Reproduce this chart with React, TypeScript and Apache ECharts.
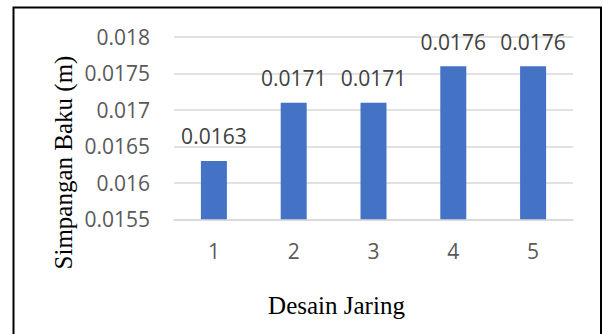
import React, { useEffect, useRef } from "react";
import * as echarts from "echarts";

// Desain jaring (network designs) and their standard deviation in metres
const categories = ["1", "2", "3", "4", "5"];
const stdDev = [0.0163, 0.0171, 0.0171, 0.0176, 0.0176];

// Value axis range
const yMin = 0.0155;
const yMax = 0.018;
const yStep = 0.0005;

const yTitle = "Simpangan Baku (m)";
const xTitle = "Desain Jaring";

const fmt = (v: number) => String(Number(v.toFixed(4)));

export default function App() {
  const ref = useRef<HTMLDivElement>(null);

  useEffect(() => {
    if (!ref.current) return;
    const chart = echarts.init(ref.current, undefined, { renderer: "svg" });
    const sans = "'Open Sans', sans-serif";
    const serif = "'Liberation Serif', 'Times New Roman', serif";
    chart.setOption({
      animation: false,
      backgroundColor: "#ffffff",
      grid: { left: 174, right: 30, top: 37, bottom: 114.7 },
      xAxis: {
        type: "category",
        data: categories,
        axisLine: { show: true, lineStyle: { color: "#d9d9d9", width: 1.5 } },
        axisTick: { show: false },
        axisLabel: { color: "#595959", fontSize: 21, fontFamily: sans, margin: 21 },
      },
      yAxis: {
        type: "value",
        min: yMin,
        max: yMax,
        interval: yStep,
        axisLine: { show: false },
        axisTick: { show: false },
        splitLine: { lineStyle: { color: "#d9d9d9", width: 1.5 } },
        axisLabel: {
          color: "#595959",
          fontSize: 21,
          fontFamily: sans,
          margin: 24,
          formatter: (v: number) => fmt(v),
        },
      },
      series: [
        {
          type: "bar",
          data: stdDev,
          barWidth: 26,
          itemStyle: { color: "#4472c4" },
          label: {
            show: true,
            position: "top",
            distance: 14,
            color: "#404040",
            fontSize: 21,
            fontFamily: sans,
            formatter: (p: any) => fmt(p.value),
          },
        },
      ],
      graphic: [
        {
          type: "rect",
          shape: { x: 13.5, y: 7.5, width: 587.5, height: 340 },
          style: { fill: "none", stroke: "#000000", lineWidth: 2 },
          silent: true,
        },
        {
          type: "text",
          x: 63,
          y: 162.5,
          rotation: Math.PI / 2,
          style: {
            text: yTitle,
            fill: "#000000",
            font: `25px ${serif}`,
            align: "center",
            verticalAlign: "middle",
          },
        },
        {
          type: "text",
          x: 336.5,
          y: 305,
          style: {
            text: xTitle,
            fill: "#000000",
            font: `25px ${serif}`,
            align: "center",
            verticalAlign: "middle",
          },
        },
      ],
    });
    return () => chart.dispose();
  }, []);

  return (
    <div
      ref={ref}
      style={{ position: "absolute", left: 0, top: 0, width: 603, height: 334 }}
    />
  );
}
